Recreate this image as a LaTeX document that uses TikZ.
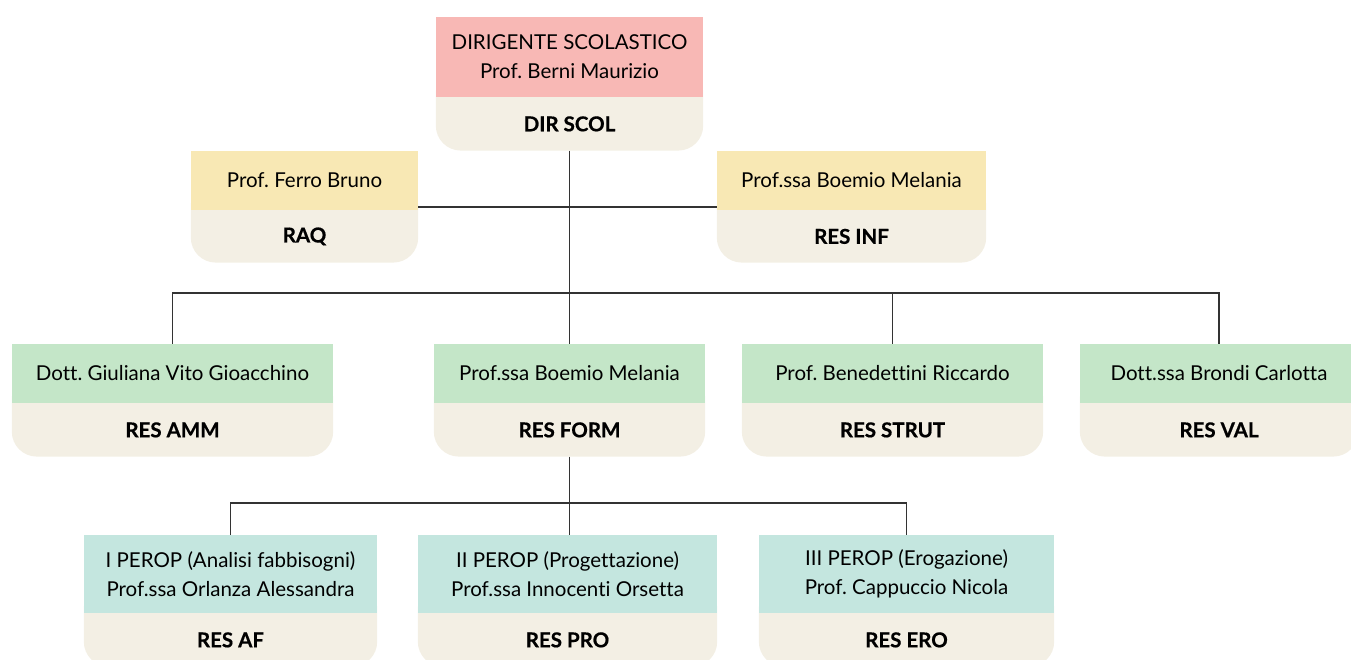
\documentclass[tikz,border=0pt]{standalone}
\usepackage{fontspec}
\setmainfont[Ligatures=NoCommon, BoldFeatures={FakeBold=0.6}]{Lato}
\usepackage{xcolor}
\usepackage{tikz}
\usetikzlibrary{backgrounds}
\usetikzlibrary{positioning}
\frenchspacing
\definecolor{rosa}{HTML}{F8B8B5}
\definecolor{giallo}{HTML}{F8E8B4}
\definecolor{verde}{HTML}{C4E6C8}
\definecolor{acqua}{HTML}{C4E6DF}
\definecolor{crema}{HTML}{F3EFE4}
\definecolor{linea}{HTML}{333333}
\tikzset{
  Ruolo/.style={fill=#1, inner sep=0pt, align=center, font=\fontsize{20.5}{29}\selectfont}, % Kasten oben
  Sigla/.style={below=0pt of #1, inner sep=0pt, font=\fontsize{20.5}{24}\selectfont\bfseries}, % Kasten unten
  Linea/.style={draw=linea, line width=1.6pt} % Verbindungen
}

\begin{document}
\begin{tikzpicture}[x=1pt, y=-1pt]
\useasboundingbox (0,0) rectangle (1351,660);

%Dirigente
\node[Ruolo=rosa, minimum width=267pt, minimum height=80pt] (dir) at (569.5,57) {DIRIGENTE SCOLASTICO\\Prof. Berni Maurizio};
\node[Sigla=dir, minimum width=267pt, minimum height=53pt] (dirT) {DIR SCOL};

%Staff
\node[Ruolo=giallo, minimum width=227pt, minimum height=59pt] (raq) at (304.5,180.5) {Prof. Ferro Bruno};
\node[Sigla=raq, minimum width=227pt, minimum height=52pt] (raqT) {RAQ};
\node[Ruolo=giallo, minimum width=269pt, minimum height=59pt] (inf) at (851.5,180.5) {Prof.ssa Boemio Melania};
\node[Sigla=inf, minimum width=269pt, minimum height=52pt] (infT) {RES INF};

%Responsabili
\node[Ruolo=verde, minimum width=321pt, minimum height=59pt] (amm) at (172.5,373.5) {Dott. Giuliana Vito Gioacchino};
\node[Sigla=amm, minimum width=321pt, minimum height=53pt] (ammT) {RES AMM};
\node[Ruolo=verde, minimum width=271pt, minimum height=59pt] (form) at (569.5,373.5) {Prof.ssa Boemio Melania};
\node[Sigla=form, minimum width=271pt, minimum height=53pt] (formT) {RES FORM};
\node[Ruolo=verde, minimum width=301pt, minimum height=59pt] (strut) at (892.5,373.5) {Prof. Benedettini Riccardo};
\node[Sigla=strut, minimum width=301pt, minimum height=53pt] (strutT) {RES STRUT};
\node[Ruolo=verde, minimum width=278pt, minimum height=59pt] (val) at (1219,373.5) {Dott.ssa Brondi Carlotta};
\node[Sigla=val, minimum width=278pt, minimum height=53pt] (valT) {RES VAL};

%PEROP
\node[Ruolo=acqua, minimum width=293pt, minimum height=78pt] (af) at (230.5,574) {I PEROP (Analisi fabbisogni)\\Prof.ssa Orlanza Alessandra};
\node[Sigla=af, minimum width=293pt, minimum height=53pt] (afT) {RES AF};
\node[Ruolo=acqua, minimum width=299pt, minimum height=78pt] (pro) at (567.5,574) {II PEROP (Progettazione)\\Prof.ssa Innocenti Orsetta};
\node[Sigla=pro, minimum width=299pt, minimum height=53pt] (proT) {RES PRO};
\node[Ruolo=acqua, minimum width=295pt, minimum height=78pt] (ero) at (906.5,574) {III PEROP (Erogazione)\\Prof. Cappuccio Nicola};
\node[Sigla=ero, minimum width=295pt, minimum height=53pt] (eroT) {RES ERO};

%Hintergrund der Kennungen
\begin{pgfonlayer}{background}
\foreach \n in {dirT,raqT,infT,ammT,formT,strutT,valT,afT,proT,eroT}
  \fill[crema, rounded corners=25pt] ([yshift=30pt]\n.north west) rectangle (\n.south east);
\end{pgfonlayer}

%Leitungen
\coordinate (bus1) at (569.5,293);
\coordinate (bus2) at (569.5,503);
\draw[Linea] (dirT.south) -- (form.north);
\draw[Linea] ([yshift=3pt]raq.south east) -- ([yshift=3pt]inf.south west);
\draw[Linea] (amm.north) |- (bus1) -| (val.north);
\draw[Linea] (strut.north) -- (strut.north |- bus1);
\draw[Linea] (formT.south) -- (formT.south |- pro.north);
\draw[Linea] (af.north) |- (bus2) -| (ero.north);

\end{tikzpicture}
\end{document}
